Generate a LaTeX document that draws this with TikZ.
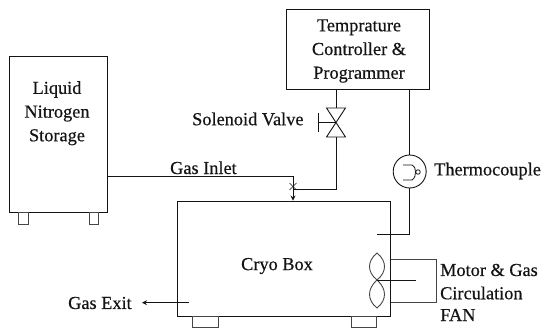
\documentclass[tikz,border=0pt]{standalone}
\usepackage{xcolor}
\usepackage{fontspec}
\setmainfont{Liberation Serif}[RawFeature={embolden=0.5}]
\usepackage{tikz}
\usetikzlibrary{arrows.meta, positioning, calc}
\definecolor{mydark}{RGB}{20,20,20}
\definecolor{mygrey}{RGB}{70,70,70}
\tikzset{
  box/.style={rectangle, draw=mydark, line width=0.9pt, inner sep=0pt, align=center},
  leg/.style={rectangle, draw=mygrey, line width=0.8pt, inner sep=0pt},
  lbl/.style={inner sep=0pt, align=center, text=mydark, font=\fontsize{18.3}{23.7}\selectfont},
  line/.style={line width=0.9pt, color=mydark},
  arrow/.style={-{Stealth[length=5pt,width=5pt]}, line width=0.9pt, color=mydark}
}

\begin{document}
\begin{tikzpicture}[x=1pt, y=-1pt]
  \useasboundingbox (0,0) rectangle (544,329);
  % boxes
  \node[box, minimum width=98pt, minimum height=156pt] (storage) at (58,134) {};
  \node[box, minimum width=142.5pt, minimum height=80.5pt] (ctrl) at (357.7,49.7) {};
  \node[box, minimum width=213.5pt, minimum height=115pt] (cryo) at (283.7,258.5) {};
  \node[lbl, anchor=north] (storagetxt) at (57,81) {Liquid\\Nitrogen\\Storage};
  \node[lbl] (ctrltxt) at (359,51) {Temprature\\Controller \&\\Programmer};
  \node[lbl] (cryotxt) at (277,266) {Cryo Box};

  % legs
  \node[leg, minimum width=10pt, minimum height=12pt, anchor=north] (leg1) at (23.5,212) {};
  \node[leg, minimum width=9pt, minimum height=12pt, anchor=north] (leg2) at (94,212) {};
  \node[leg, minimum width=26pt, minimum height=11pt, anchor=north] (leg3) at (205,316) {};
  \node[leg, minimum width=25pt, minimum height=11pt, anchor=north] (leg4) at (363.5,316) {};

  % gas inlet
  \coordinate (inletturn) at (293,176.5);
  \coordinate (junc) at (293,189);
  \draw[line] (storage.east |- inletturn) -- (inletturn) -- (junc);
  \draw[arrow] (junc) -- (junc |- cryo.north);
  \draw[line, line width=0.6pt] ($(junc)+(-3.5,-6)$) -- ($(junc)+(3.5,1)$);
  \draw[line, line width=0.6pt] ($(junc)+(3.5,-6)$) -- ($(junc)+(-3.5,1)$);
  \node[lbl, anchor=base west] (inlettxt) at (170,174) {Gas Inlet};

  % valve
  \coordinate (valve) at (336,122.5);
  \coordinate (vtop) at (336,108);
  \coordinate (vbot) at (336,137);
  \coordinate (vstem) at (318.5,122.5);
  \draw[line] (vtop |- ctrl.south) -- (vtop);
  \draw[line] ($(vtop)+(-9.5,0)$) -- ($(vtop)+(9.5,0)$) -- ($(vbot)+(-9.5,0)$) -- ($(vbot)+(9.5,0)$) -- cycle;
  \draw[line] (valve) -- (vstem);
  \draw[line] ($(vstem)+(0,-9)$) -- ($(vstem)+(0,9)$);
  \draw[line] (vbot) -- (vbot |- junc) -- (junc);
  \node[lbl, anchor=west] (valvetxt) at (192,119) {Solenoid Valve};

  % thermocouple
  \node[circle, draw=mydark, line width=0.9pt, minimum size=33pt, inner sep=0pt] (tc) at (409.7,171.5) {};
  \coordinate (tcend) at (377,234);
  \draw[line] (tc.north |- ctrl.south) -- (tc.north);
  \draw[line] (tc.south) -- (tc.south |- tcend) -- (tcend);
  \draw[line, line width=0.8pt] (403,165) -- (412,165) .. controls (415,167) and (415.5,169) .. (415.5,172) .. controls (415.5,175) and (415,178) .. (412,180) -- (403,180);
  \node[circle, draw=mydark, line width=0.8pt, minimum size=4.5pt, inner sep=0pt] (tcdot) at (418,172) {};
  \node[lbl, anchor=west] (tctxt) at (434,171) {Thermocouple};

  % fan
  \coordinate (fan) at (377,280);
  \coordinate (fanup) at (377,253);
  \coordinate (fandown) at (377,308);
  \coordinate (shaft) at (416,280);
  \draw[line, color=mygrey] (fan) .. controls (367,272) and (367,261) .. (fanup) .. controls (387,261) and (387,272) .. (fan);
  \draw[line, color=mygrey] (fan) .. controls (367,289) and (367,300) .. (fandown) .. controls (387,300) and (387,289) .. (fan);
  \draw[line] (fan) -- (shaft);
  \coordinate (motor1) at (436,259);
  \coordinate (motor2) at (436,302);
  \draw[line, color=mygrey] (cryo.east |- motor1) -- (motor1) -- (motor2) -- (cryo.east |- motor2);
  \node[lbl, anchor=west] (motortxt1) at (440,270) {Motor \& Gas};
  \node[lbl, anchor=west] (motortxt2) at (440,293) {Circulation};
  \node[lbl, anchor=west] (motortxt3) at (440,315) {FAN};

  % gas exit
  \coordinate (exitin) at (189,302.7);
  \coordinate (exitout) at (142,302.7);
  \draw[arrow] (exitin) -- (exitout);
  \node[lbl, anchor=west] (exittxt) at (68,303) {Gas Exit};
\end{tikzpicture}
\end{document}
